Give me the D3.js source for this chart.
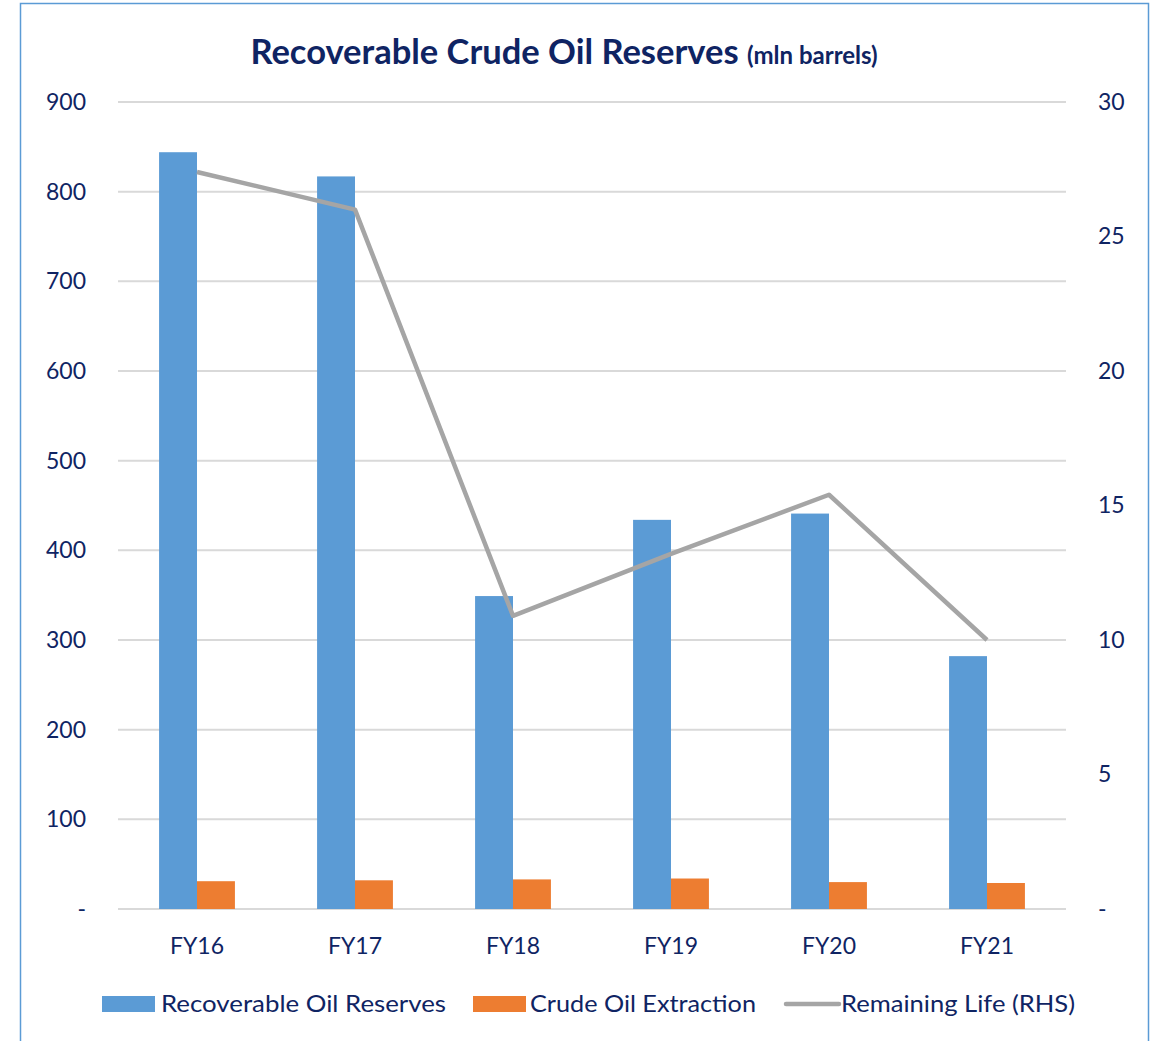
<!DOCTYPE html>
<html>
<head>
<meta charset="utf-8">
<script src="https://cdn.jsdelivr.net/npm/d3@7"></script>
<style>
  body { margin: 0; background: #fff; }
  text { font-family: Lato, "Open Sans", sans-serif; fill: #0f2463; }
</style>
</head>
<body>
<div id="chart"></div>
<script>
const YEARS = ["FY16", "FY17", "FY18", "FY19", "FY20", "FY21"];
const RESERVES = [844, 817, 349, 434, 441, 282];
const EXTRACTION = [31, 32, 33, 34, 30, 29];
const REMAINING_LIFE = [27.4, 26.0, 10.9, 13.2, 15.4, 10.0];
const LEFT_TICKS = [0, 100, 200, 300, 400, 500, 600, 700, 800, 900];
const RIGHT_TICKS = [0, 5, 10, 15, 20, 25, 30];
const LEGEND_LABELS = ["Recoverable Oil Reserves", "Crude Oil Extraction", "Remaining Life (RHS)"];

const WIDTH = 1155;
const HEIGHT = 1041;
const PLOT_LEFT = 118;
const PLOT_RIGHT = 1066;
const PLOT_TOP = 102;
const PLOT_BOTTOM = 909;
const BLUE = "#5b9bd5";
const ORANGE = "#ed7d31";
const GREY = "#a5a5a5";
const TEXT_COLOR = "#0f2463";
const FONT = "Lato, 'Open Sans', sans-serif";

var svg = d3.select("#chart")
  .append("svg")
  .attr("width", WIDTH)
  .attr("height", HEIGHT);

// outer frame
svg.append("rect")
  .attr("x", 20.5)
  .attr("y", 3.5)
  .attr("width", 1128)
  .attr("height", 1060)
  .attr("fill", "none")
  .attr("stroke", BLUE)
  .attr("stroke-width", 1.5);

var xScale = d3.scaleBand()
  .domain(YEARS)
  .range([PLOT_LEFT, PLOT_RIGHT])
  .paddingInner(0.52)
  .paddingOuter(0.26);

var xSub = d3.scaleBand()
  .domain(["reserves", "extraction"])
  .range([0, xScale.bandwidth()]);

var yLeft = d3.scaleLinear()
  .domain([0, 900])
  .range([PLOT_BOTTOM, PLOT_TOP]);

var yRight = d3.scaleLinear()
  .domain([0, 30])
  .range([PLOT_BOTTOM, PLOT_TOP]);

// gridlines
svg.append("g")
  .selectAll("line")
  .data(LEFT_TICKS)
  .enter()
  .append("line")
  .attr("x1", PLOT_LEFT)
  .attr("x2", PLOT_RIGHT)
  .attr("y1", d => yLeft(d))
  .attr("y2", d => yLeft(d))
  .attr("stroke", "#d9d9d9")
  .attr("stroke-width", 2);

var fmt = d => d === 0 ? "-" : d;

var leftAxis = svg.append("g")
  .attr("transform", `translate(${PLOT_LEFT - 32}, 0)`)
  .call(d3.axisLeft(yLeft).tickValues(LEFT_TICKS).tickFormat(fmt).tickSize(0).tickPadding(0));

var rightAxis = svg.append("g")
  .attr("transform", `translate(${PLOT_RIGHT + 32}, 0)`)
  .call(d3.axisRight(yRight).tickValues(RIGHT_TICKS).tickFormat(fmt).tickSize(0).tickPadding(0));

[leftAxis, rightAxis].forEach(a => {
  a.select(".domain").remove();
  a.selectAll("text")
    .attr("font-size", 23)
    .attr("font-family", FONT)
    .attr("fill", TEXT_COLOR);
});

// bars
var groups = svg.append("g")
  .selectAll("g")
  .data(YEARS)
  .enter()
  .append("g")
  .attr("transform", d => `translate(${xScale(d)}, 0)`);

groups.append("rect")
  .attr("x", xSub("reserves"))
  .attr("width", xSub.bandwidth())
  .attr("y", (d, i) => yLeft(RESERVES[i]))
  .attr("height", (d, i) => yLeft(0) - yLeft(RESERVES[i]))
  .attr("fill", BLUE);

groups.append("rect")
  .attr("x", xSub("extraction"))
  .attr("width", xSub.bandwidth())
  .attr("y", (d, i) => yLeft(EXTRACTION[i]))
  .attr("height", (d, i) => yLeft(0) - yLeft(EXTRACTION[i]))
  .attr("fill", ORANGE);

// x axis
var bottomAxis = svg.append("g")
  .attr("transform", `translate(0, ${PLOT_BOTTOM + 29})`)
  .call(d3.axisBottom(xScale).tickSize(0).tickPadding(0));
bottomAxis.select(".domain").remove();
bottomAxis.selectAll("text")
  .attr("font-size", 23)
  .attr("font-family", FONT)
  .attr("fill", TEXT_COLOR);

// remaining life line
var line = d3.line()
  .x((d, i) => xScale(YEARS[i]) + xScale.bandwidth() / 2)
  .y(d => yRight(d));

svg.append("path")
  .datum(REMAINING_LIFE)
  .attr("d", line)
  .attr("fill", "none")
  .attr("stroke", GREY)
  .attr("stroke-width", 4.5)
  .attr("stroke-linejoin", "round");

// title
var title = svg.append("text")
  .attr("x", 564)
  .attr("y", 64)
  .attr("text-anchor", "middle")
  .attr("font-weight", "bold");
title.append("tspan")
  .attr("font-size", 34.5)
  .text("Recoverable Crude Oil Reserves ");
title.append("tspan")
  .attr("font-size", 24)
  .text("(mln barrels)");

// legend
var legend = svg.append("g");
var items = [
  { color: BLUE, type: "bar", x: 102, textX: 161, width: 285 },
  { color: ORANGE, type: "bar", x: 473, textX: 530, width: 226 },
  { color: GREY, type: "line", x: 786, textX: 841, width: 234 }
];
items.forEach((item, i) => {
  if (item.type === "bar") {
    legend.append("rect")
      .attr("x", item.x)
      .attr("y", 996)
      .attr("width", 53)
      .attr("height", 16)
      .attr("fill", item.color);
  } else {
    legend.append("line")
      .attr("x1", item.x)
      .attr("x2", item.x + 53)
      .attr("y1", 1004)
      .attr("y2", 1004)
      .attr("stroke", item.color)
      .attr("stroke-width", 4.5)
      .attr("stroke-linecap", "round");
  }
  legend.append("text")
    .attr("x", item.textX)
    .attr("y", 1012)
    .attr("font-size", 23)
    .attr("textLength", item.width)
    .attr("lengthAdjust", "spacingAndGlyphs")
    .text(LEGEND_LABELS[i]);
});
</script>
</body>
</html>
